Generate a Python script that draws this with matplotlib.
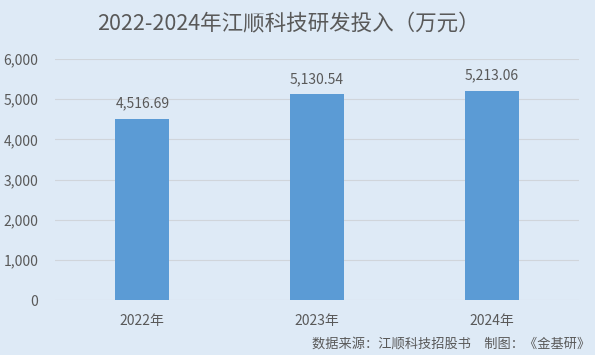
import matplotlib
matplotlib.use("Agg")
import matplotlib.pyplot as plt
from matplotlib.ticker import FuncFormatter

plt.rcParams['font.family'] = ['Noto Sans CJK SC', 'DejaVu Sans']

categories = ["2022年", "2023年", "2024年"]
values = [4516.69, 5130.54, 5213.06]
labels = ["4,516.69", "5,130.54", "5,213.06"]
yticks = [0, 1000, 2000, 3000, 4000, 5000, 6000]

bg = "#DEEAF6"
bar_color = "#5B9BD5"
text_color = "#595959"

fig = plt.figure(figsize=(5.95, 3.55), dpi=100, facecolor=bg)
ax = fig.add_axes([55/595, 1-300/355, (579-55)/595, (300-59)/355])
ax.set_facecolor(bg)

x = range(len(categories))
bars = ax.bar(x, values, width=0.31, color=bar_color, zorder=3)
for xi, v, lab in zip(x, values, labels):
    ax.text(xi, v + 200, lab, ha='center', va='bottom', fontsize=10, color=text_color)

ax.set_ylim(0, 6000)
ax.set_xlim(-0.5, 2.5)
ax.set_yticks(yticks)
ax.yaxis.set_major_formatter(FuncFormatter(lambda v, p: f"{int(v):,}"))
ax.set_xticks(list(x))
ax.set_xticklabels(categories)
ax.tick_params(axis='both', length=0, labelsize=10, colors=text_color)
ax.tick_params(axis='x', pad=10)
ax.tick_params(axis='y', pad=12)
ax.grid(axis='y', color='#D0D5DB', linewidth=0.8, zorder=0)
for s in ax.spines.values():
    s.set_visible(False)

fig.text(0.485, 1-24/355, "2022-2024年江顺科技研发投入（万元）", ha='center', va='center',
         fontsize=15.5, color=text_color)
fig.text(590/595, 1-344/355, "数据来源：江顺科技招股书　制图：《金基研》", ha='right', va='center',
         fontsize=9.5, color=text_color)

fig.savefig("out.png", dpi=100, facecolor=bg)
